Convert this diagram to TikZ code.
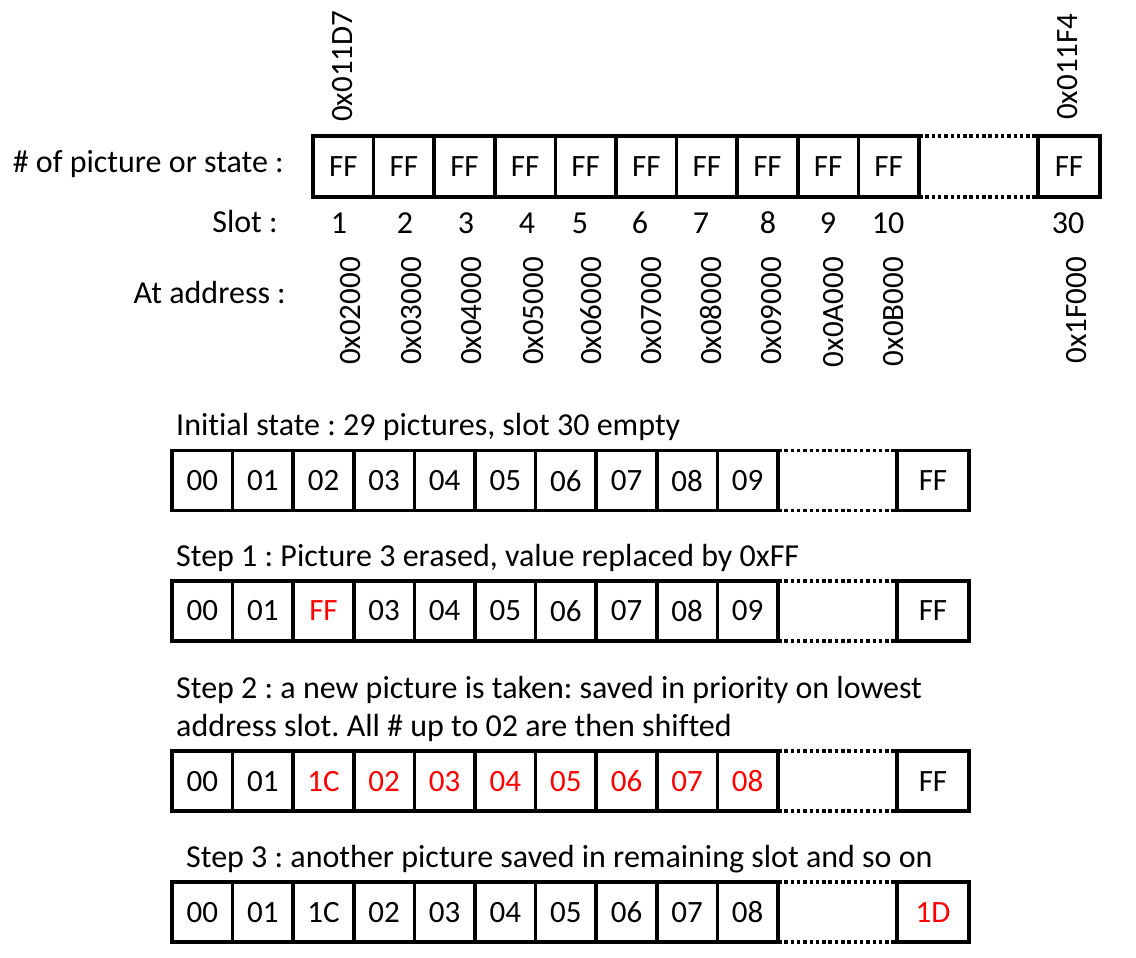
\documentclass[tikz,border=0pt]{standalone}
\usepackage{fontspec}
\setmainfont{Carlito}[Ligatures={NoCommon}]
\frenchspacing
\newcommand\diagfont{\fontsize{31}{38}\selectfont}
\newcommand\capfont{\fontsize{32}{38}\selectfont}
\begin{document}
\begin{tikzpicture}[x=1pt,y=-1pt,
  cell/.style={draw,line width=3.5pt,minimum width=60.6pt,minimum height=61pt,inner sep=0pt,outer sep=0pt,font=\diagfont},
  lowcell/.style={cell,minimum height=60pt},
  dotline/.style={line width=3.5pt,dash pattern=on 3.5pt off 2.8pt},
  lab/.style={inner sep=0pt,font=\diagfont},
  caption/.style={inner sep=0pt,font=\capfont,anchor=base west},
  hot/.style={text=red}]
\useasboundingbox (0,0) rectangle (1136,958);

% ---- top row
\foreach \i in {1,...,10}
  \node[cell] (t\i) at ({313+60.6*(\i-0.5)},166.5) {FF};
\node[cell,minimum width=62pt] (t30) at (1069,166.5) {FF};
\draw[dotline] (t10.north east) -- (t30.north west);
\draw[dotline] (t10.south east) -- (t30.south west);

\node[lab,rotate=90,anchor=base west] (h1) at (352,122) {0x011D7};
\node[lab,rotate=90,anchor=base west] (h30) at (1077,120) {0x011F4};

\node[caption,anchor=base east] (lpic) at (284,172) {\# of picture or state :};
\node[caption,anchor=base east] (lslot) at (278,232) {Slot :};
\node[caption,anchor=base east] (laddr) at (286,303) {At address :};

\foreach \n/\x in {1/339,2/405,3/466,4/527,5/580,6/640,7/701,8/768,9/828,10/888,30/1068}
  \node[caption,anchor=base] (s\n) at (\x,233) {\n};

\foreach \n/\x/\t in {1/360/0x02000,2/421.7/0x03000,3/481.7/0x04000,4/543/0x05000,5/601.7/0x06000,6/661.7/0x07000,7/721.7/0x08000,8/781.7/0x09000,9/843/0x0A000,10/903/0x0B000,30/1086.7/0x1F000}
  \node[lab,rotate=90,anchor=base east] (a\n) at (\x,257) {\t};

% ---- captions
\node[caption] (cap0) at (176,435) {Initial state : 29 pictures, slot 30 empty};
\node[caption] (cap1) at (176,566) {Step 1 : Picture 3 erased, value replaced by 0xFF};
\node[caption] (cap2a) at (176,698) {Step 2 : a new picture is taken: saved in priority on lowest};
\node[caption] (cap2b) at (176,736) {address slot. All \# up to 02 are then shifted};
\node[caption] (cap3) at (186,867) {Step 3 : another picture saved in remaining slot and so on};

% ---- row A: initial state
\foreach \i/\t/\c in {1/00/black,2/01/black,3/02/black,4/03/black,5/04/black,6/05/black,7/06/black,8/07/black,9/08/black,10/09/black}
  \node[lowcell,text=\c] (ra\i) at ({172+60.6*(\i-0.5)},480.7) {\t};
\node[lowcell,minimum width=72pt] (ra30) at (933,480.7) {FF};
\draw[dotline] (ra10.north east) -- (ra30.north west);
\draw[dotline] (ra10.south east) -- (ra30.south west);

% ---- row B: step 1
\foreach \i/\t/\c in {1/00/black,2/01/black,3/FF/red,4/03/black,5/04/black,6/05/black,7/06/black,8/07/black,9/08/black,10/09/black}
  \node[lowcell,text=\c] (rb\i) at ({172+60.6*(\i-0.5)},610.8) {\t};
\node[lowcell,minimum width=72pt] (rb30) at (933,610.8) {FF};
\draw[dotline] (rb10.north east) -- (rb30.north west);
\draw[dotline] (rb10.south east) -- (rb30.south west);

% ---- row C: step 2
\foreach \i/\t/\c in {1/00/black,2/01/black,3/1C/red,4/02/red,5/03/red,6/04/red,7/05/red,8/06/red,9/07/red,10/08/red}
  \node[lowcell,text=\c] (rc\i) at ({172+60.6*(\i-0.5)},781.2) {\t};
\node[lowcell,minimum width=72pt] (rc30) at (933,781.2) {FF};
\draw[dotline] (rc10.north east) -- (rc30.north west);
\draw[dotline] (rc10.south east) -- (rc30.south west);

% ---- row D: step 3
\foreach \i/\t/\c in {1/00/black,2/01/black,3/1C/black,4/02/black,5/03/black,6/04/black,7/05/black,8/06/black,9/07/black,10/08/black}
  \node[lowcell,text=\c] (rd\i) at ({172+60.6*(\i-0.5)},912.2) {\t};
\node[lowcell,minimum width=72pt,hot] (rd30) at (933,912.2) {1D};
\draw[dotline] (rd10.north east) -- (rd30.north west);
\draw[dotline] (rd10.south east) -- (rd30.south west);
\end{tikzpicture}
\end{document}
